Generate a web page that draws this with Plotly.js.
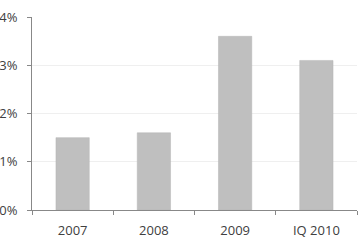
<!DOCTYPE html>
<html>
<head>
<meta charset="utf-8">
<script src="https://cdn.plot.ly/plotly-3.0.1.min.js"></script>
<style>html,body{margin:0;padding:0;background:#fff;}#chart{width:360px;height:240px;}</style>
</head>
<body>
<div id="chart"></div>
<script>
const categories = ["2007", "2008", "2009", "IQ 2010"];
const values = [0.015, 0.016, 0.036, 0.031];
const yTickVals = [0, 0.01, 0.02, 0.03, 0.04];
const yTickText = ["0%", "1%", "2%", "3%", "4%"];

Plotly.newPlot("chart", [{
  type: "bar",
  x: categories,
  y: values,
  marker: {color: "#bfbfbf", line: {color: "#b5b5b5", width: 0.5}},
  width: 0.41,
  hoverinfo: "none"
}], {
  width: 360, height: 240,
  margin: {l: 32, r: 3, t: 17, b: 30},
  paper_bgcolor: "#fff", plot_bgcolor: "#fff",
  font: {family: "Open Sans, Noto Sans, sans-serif", size: 13, color: "#404040"},
  showlegend: false,
  xaxis: {
    type: "category",
    tickson: "boundaries",
    ticks: "outside", ticklen: 4, tickcolor: "#888", tickwidth: 1,
    showline: true, linecolor: "#888", linewidth: 1,
    showgrid: false, zeroline: false,
    tickfont: {size: 13, color: "#404040"},
    ticklabelstandoff: 8,
    range: [-0.5, 3.5]
  },
  yaxis: {
    range: [0, 0.04],
    tickvals: yTickVals, ticktext: yTickText,
    ticks: "outside", ticklen: 4, tickcolor: "#888", tickwidth: 1,
    showline: true, linecolor: "#888", linewidth: 1,
    showgrid: true, gridcolor: "#efefef", gridwidth: 1,
    zeroline: false,
    tickfont: {size: 13, color: "#404040"},
    ticklabelstandoff: 7
  }
}, {staticPlot: true, displayModeBar: false});
</script>
</body>
</html>
